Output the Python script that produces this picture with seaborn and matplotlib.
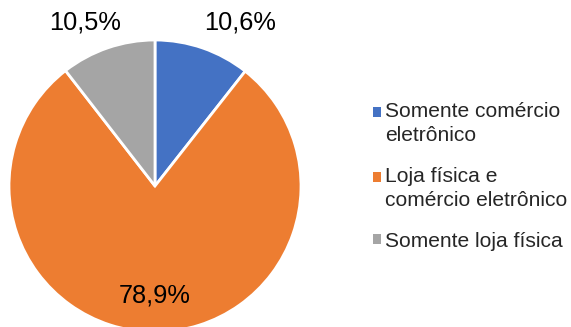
import matplotlib
matplotlib.use("Agg")
import matplotlib.pyplot as plt
from matplotlib.patches import Patch, Rectangle
from matplotlib.legend_handler import HandlerPatch
import seaborn as sns

categories = ["Somente comércio\neletrônico", "Loja física e\ncomércio eletrônico", "Somente loja física"]
values = [10.6, 78.9, 10.5]
pct_labels = ["10,6%", "78,9%", "10,5%"]
colors = ["#4472C4", "#ED7D31", "#A5A5A5"]

sns.set_style("white")
plt.rcParams["font.family"] = ["Liberation Sans", "DejaVu Sans"]

W, H = 571, 327
fig = plt.figure(figsize=(W / 100, H / 100), dpi=100)
cx, cy, r = 155, 186, 146
ax = fig.add_axes([(cx - r) / W, (H - cy - r) / H, 2 * r / W, 2 * r / H])
wedges, _ = ax.pie(values, colors=colors, startangle=90, counterclock=False,
                   radius=1.0, wedgeprops=dict(edgecolor="white", linewidth=2.0))
ax.set_xlim(-1, 1)
ax.set_ylim(-1, 1)
ax.set_aspect("equal")
ax.axis("off")

label_pos = [(0.582, 1.123), (0.0, -0.747), (-0.479, 1.123)]
for (x, y), t in zip(label_pos, pct_labels):
    ax.text(x, y, t, ha="center", va="center", fontsize=18.3, color="#000000", clip_on=False)

LS_PT = 23 / 100 * 72  # line spacing in points


def make_handler(nlines):
    shift = (nlines - 1) * LS_PT / 2.0

    def pf(legend, orig_handle, xdescent, ydescent, width, height, fontsize):
        return Rectangle((-xdescent, -ydescent + shift), width, height)
    return HandlerPatch(patch_func=pf)


handles = [Patch(facecolor=c, edgecolor="none") for c in colors]
hmap = {h: make_handler(lab.count("\n") + 1) for h, lab in zip(handles, categories)}
leg = fig.legend(handles, categories, loc="upper left", bbox_to_anchor=(373 / W, 1 - 102 / H),
                 frameon=False, fontsize=15.1, handlelength=0.38, handleheight=0.38,
                 handletextpad=0.2, labelspacing=1.05, borderaxespad=0, borderpad=0,
                 handler_map=hmap)
for t in leg.get_texts():
    t.set_linespacing(1.32)
fig.savefig("out.png", dpi=100)
